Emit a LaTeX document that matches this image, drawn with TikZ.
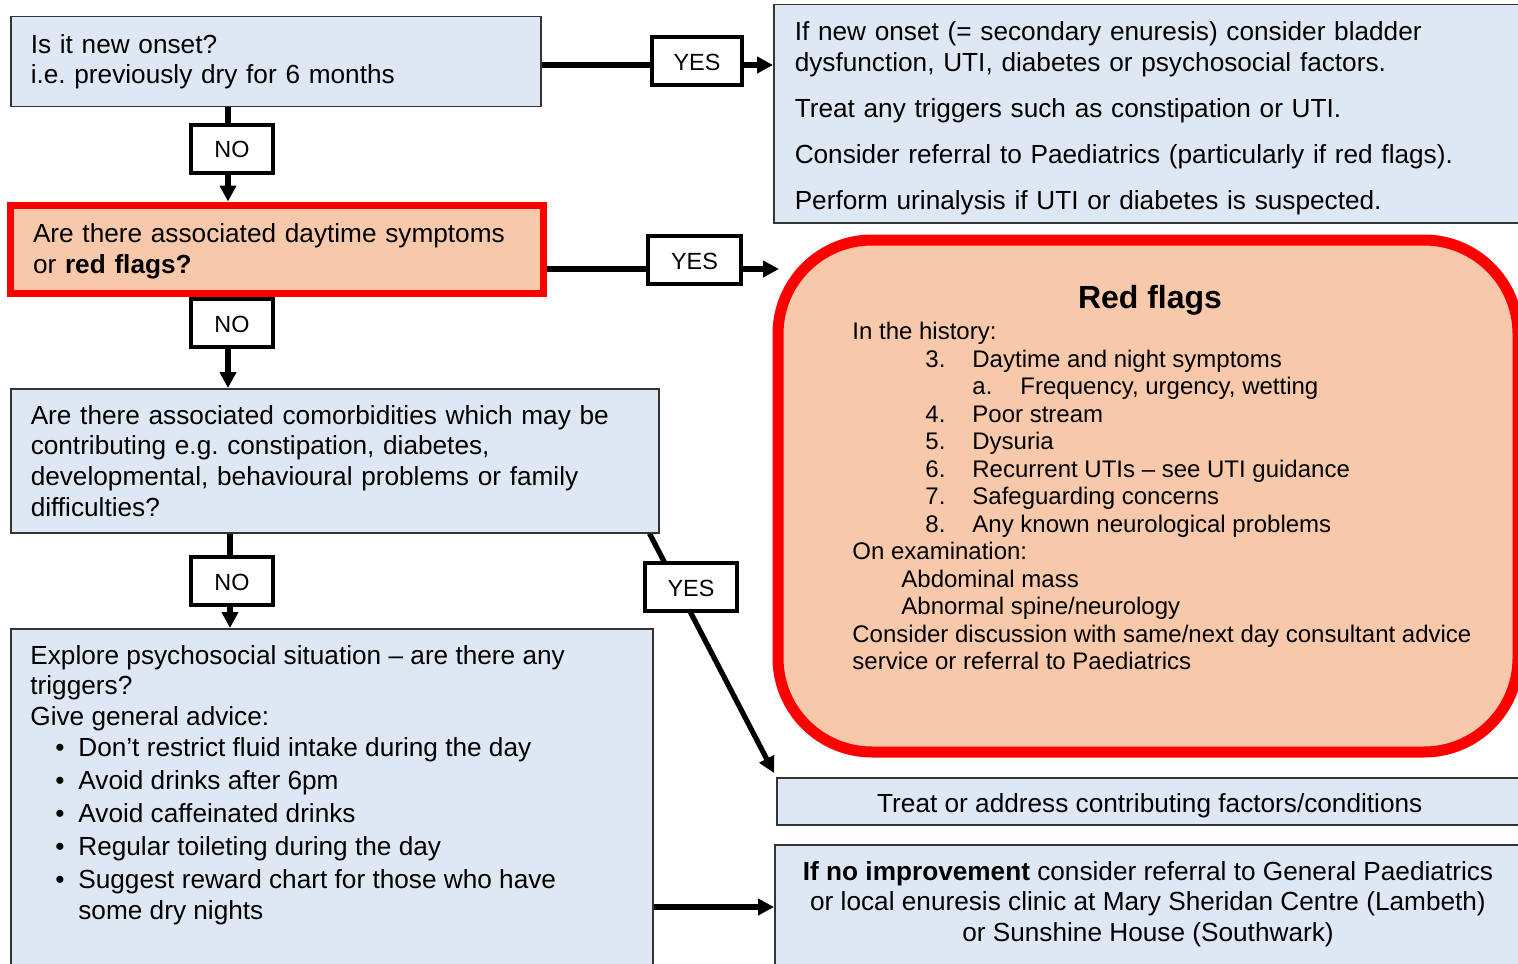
\documentclass[tikz,border=0pt]{standalone}
\usepackage{fontspec}
\setmainfont{Liberation Sans}
\usetikzlibrary{arrows.meta,calc,backgrounds}
\definecolor{boxblue}{HTML}{DDE8F4}
\definecolor{peach}{HTML}{F7C9AA}
\definecolor{flagred}{HTML}{FF0000}
\newcommand{\mainsz}{\fontsize{13.1}{15.3}\selectfont\frenchspacing}
\newcommand{\rfsz}{\fontsize{12}{13.75}\selectfont\frenchspacing}
\newcommand{\lblsz}{\fontsize{11.7}{14}\selectfont}
\newcommand{\rfitem}[2]{\hspace*{36.5pt}\makebox[23.5pt][l]{#1}#2}
\newcommand{\rfsub}[2]{\hspace*{60pt}\makebox[24pt][l]{#1}#2}
\newcommand{\bul}[1]{\hspace*{12.5pt}\makebox[11.5pt][l]{\textbullet}#1}
\begin{document}
\frenchspacing
\begin{tikzpicture}[x=0.5pt,y=-0.5pt,
  qbox/.style={draw=black!80, line width=0.75pt, fill=boxblue, font=\mainsz, align=left, inner ysep=0pt},
  lbl/.style={draw=black, line width=2pt, fill=white, font=\lblsz, inner sep=0pt, minimum width=45pt, minimum height=24pt, text height=9.2pt, text depth=0pt},
  conn/.style={line width=2.6pt},
  arr/.style={conn, -{Triangle[length=8pt,width=8pt]}}]
\useasboundingbox (0,0) rectangle (1518,963);
\begin{pgfonlayer}{background}
\fill[white] (0,0) rectangle (1518,963);
\end{pgfonlayer}

% left column
\node[qbox, anchor=north west, text width=245pt, inner xsep=10pt, minimum height=45pt] (q1) at (10,16)
  {Is it new onset?\\i.e. previously dry for 6 months};
\node[qbox, draw=flagred, fill=peach, line width=3.5pt, text width=243.5pt, inner xsep=11.5pt, minimum height=44pt] (q2) at (276.5,249)
  {\rule{0pt}{12pt}Are there associated daytime symptoms\\or \textbf{red flags?}};
\node[qbox, anchor=north west, text width=304pt, inner xsep=10pt, minimum height=72pt] (q3) at (10,388)
  {Are there associated comorbidities which may be\\contributing e.g. constipation, diabetes,\\developmental, behavioural problems or family\\difficulties?};
\node[qbox, anchor=north west, minimum width=321pt, minimum height=185pt] (q4) at (10,628) {};
\node[anchor=north west, align=left, inner sep=0pt, font=\mainsz] (q4t) at (30,645)
  {Explore psychosocial situation – are there any\\triggers?\\Give general advice:\\
   \bul{Don’t restrict fluid intake during the day}\\[1.25pt]
   \bul{Avoid drinks after 6pm}\\[1.25pt]
   \bul{Avoid caffeinated drinks}\\[1.25pt]
   \bul{Regular toileting during the day}\\[1.25pt]
   \bul{Suggest reward chart for those who have}\\
   \hspace*{24pt}some dry nights};

% right column
\node[qbox, anchor=north west, text width=352.5pt, inner xsep=10.5pt, minimum height=109pt] (ra) at (773,4)
  {\rule{0pt}{14pt}If new onset (= secondary enuresis) consider bladder\\dysfunction, UTI, diabetes or psychosocial factors.\\[7.5pt]
   Treat any triggers such as constipation or UTI.\\[8pt]
   Consider referral to Paediatrics (particularly if red flags).\\[7.5pt]
   Perform urinalysis if UTI or diabetes is suspected.};
\node[draw=flagred, fill=peach, line width=5.5pt, rounded corners=47pt, minimum width=370pt, minimum height=256pt] (rf) at (1148,496) {};
\node[font=\bfseries\fontsize{16}{19}\selectfont] (rft) at (1150,300.5) {Red flags};
\node[anchor=north west, align=left, inner sep=0pt, font=\rfsz] (rfb) at (852,322)
  {In the history:\\
   \rfitem{3.}{Daytime and night symptoms}\\
   \rfsub{a.}{Frequency, urgency, wetting}\\
   \rfitem{4.}{Poor stream}\\
   \rfitem{5.}{Dysuria}\\
   \rfitem{6.}{Recurrent UTIs – see UTI guidance}\\
   \rfitem{7.}{Safeguarding concerns}\\
   \rfitem{8.}{Any known neurological problems}\\
   On examination:\\
   \hspace*{24.5pt}Abdominal mass\\
   \hspace*{24.5pt}Abnormal spine/neurology\\
   Consider discussion with same/next day consultant advice\\
   service or referral to Paediatrics};
\node[qbox, anchor=north west, minimum width=373pt, minimum height=23.5pt, align=center, text height=11pt, text depth=0.2pt] (tr) at (776,777)
  {Treat or address contributing factors/conditions};
\node[qbox, anchor=north west, minimum width=374pt, minimum height=75pt] (nb) at (774,844) {};
\node[font=\mainsz, align=center, inner sep=0pt] (nbt) at (1148,904)
  {\textbf{If no improvement} consider referral to General Paediatrics\\or local enuresis clinic at Mary Sheridan Centre (Lambeth)\\or Sunshine House (Southwark)};

% labels
\node[lbl] (y1) at (697,61.5) {YES};
\node[lbl, minimum width=46.5pt] (y2) at (694.5,260) {YES};
\node[lbl, minimum width=46pt] (y3) at (691,587) {YES};
\node[lbl, minimum width=41pt] (n1) at (232,148.5) {NO};
\node[lbl, minimum width=41pt] (n2) at (232,323) {NO};
\node[lbl, minimum width=41pt] (n3) at (232,581) {NO};

% connectors
\draw[conn] ($(q1.east |- y1.west)+(0,3.5)$) -- ($(y1.west)+(0,3.5)$);
\draw[arr] ($(y1.east)+(0,3.5)$) -- ($(ra.west |- y1.east)+(0,3.5)$);
\coordinate (rfin) at (779,269);
\draw[conn] ($(q2.east |- y2.west)+(0,9)$) -- ($(y2.west)+(0,9)$);
\draw[arr] ($(y2.east)+(0,9)$) -- (rfin);

\coordinate (n1x) at ($(n1.center)+(-4,0)$);
\coordinate (n2x) at ($(n2.center)+(-4,0)$);
\coordinate (n3x) at ($(n3.center)+(-2,0)$);
\draw[conn] (n1x |- q1.south) -- (n1x |- n1.north);
\draw[arr] (n1x |- n1.south) -- (n1x |- q2.north);
\draw[conn] (n2x |- q2.south) -- (n2x |- n2.north);
\draw[arr] (n2x |- n2.south) -- (n2x |- q3.north);
\draw[conn] (n3x |- q3.south) -- (n3x |- n3.north);
\draw[arr] (n3x |- n3.south) -- (n3x |- q4.north);

\draw[arr] ($(q4.east |- nbt.center)+(0,3)$) -- ($(nb.west |- nbt.center)+(0,3)$);

\coordinate (d1) at ($(q3.south east)+(-10,0)$);
\coordinate (d2) at ($(tr.north west)+(-2,-4)$);
\begin{pgfonlayer}{background}
\draw[arr] (d1) -- (d2);
\end{pgfonlayer}
\end{tikzpicture}
\end{document}
